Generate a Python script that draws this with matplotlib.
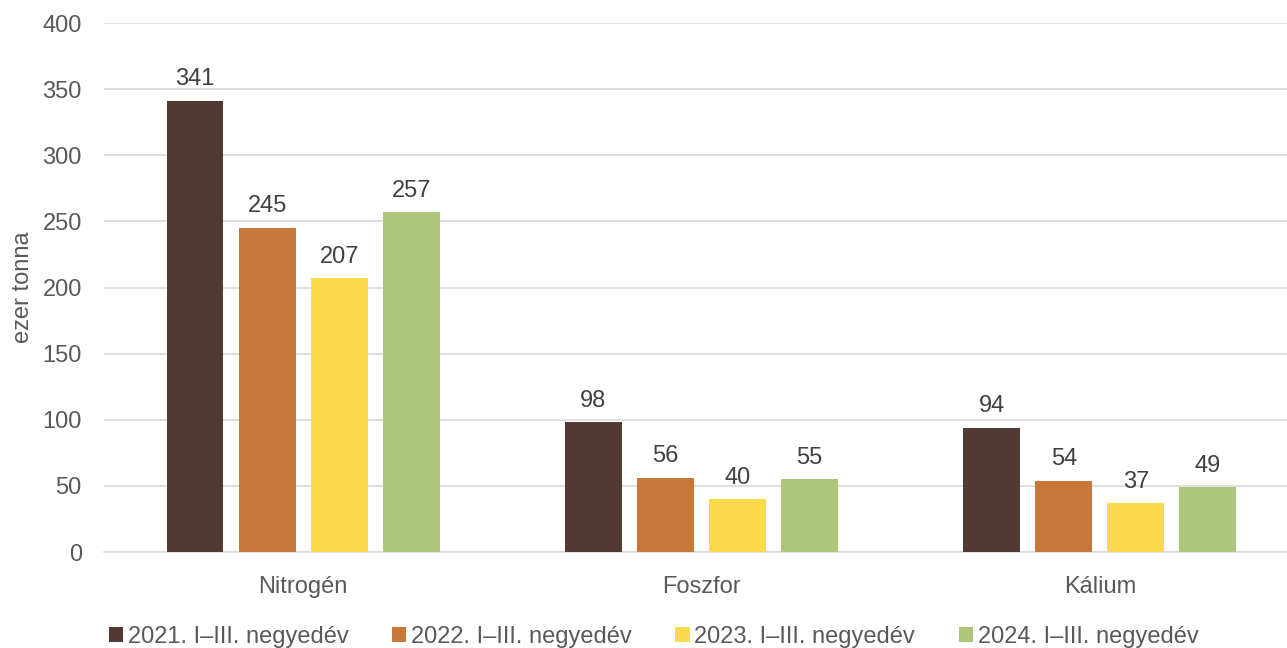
import numpy as np
import matplotlib.pyplot as plt

plt.rcParams['font.family'] = ['Liberation Sans', 'DejaVu Sans']

categories = ['Nitrogén', 'Foszfor', 'Kálium']
series = ['2021. I–III. negyedév', '2022. I–III. negyedév',
          '2023. I–III. negyedév', '2024. I–III. negyedév']
values = [
    [341, 98, 94],
    [245, 56, 54],
    [207, 40, 37],
    [257, 55, 49],
]
colors = ['#523A33', '#C8773A', '#FBDB4C', '#AEC57C']

fs = 17

fig = plt.figure(figsize=(12.87, 6.48), dpi=100)
ax = fig.add_axes([0.0808, 0.148, 0.9192, 0.8165])

x = np.arange(len(categories))
width = 0.143
step = 0.181
for i, (name, vals) in enumerate(zip(series, values)):
    pos = x + (i - 1.5) * step
    bars = ax.bar(pos, vals, width, color=colors[i], label=name, zorder=3)
    for b, v in zip(bars, vals):
        ax.text(b.get_x() + b.get_width() / 2, v + 8, str(v),
                ha='center', va='bottom', fontsize=fs, color='#404040')

ax.set_ylim(0, 400)
ax.set_yticks(range(0, 401, 50))
ax.set_xlim(-0.5, 2.47)
ax.set_xticks(x)
ax.set_xticklabels(categories)
ax.grid(axis='y', color='#D9D9D9', linewidth=1.2, zorder=0)
for s in ['top', 'right', 'left']:
    ax.spines[s].set_visible(False)
ax.spines['bottom'].set_color('#D9D9D9')
ax.spines['bottom'].set_linewidth(1.2)
ax.tick_params(axis='both', length=0, labelsize=fs, colors='#595959')
ax.tick_params(axis='x', pad=17)
ax.tick_params(axis='y', pad=16)
ax.set_ylabel('ezer tonna', fontsize=fs, color='#595959', labelpad=6)

leg = ax.legend(loc='upper center', bbox_to_anchor=(0.4645, -0.1), ncol=4,
                frameon=False, fontsize=fs, handlelength=0.6, handleheight=0.6,
                handletextpad=0.2, columnspacing=1.85)
for t in leg.get_texts():
    t.set_color('#595959')

fig.savefig('out.png', dpi=100)
